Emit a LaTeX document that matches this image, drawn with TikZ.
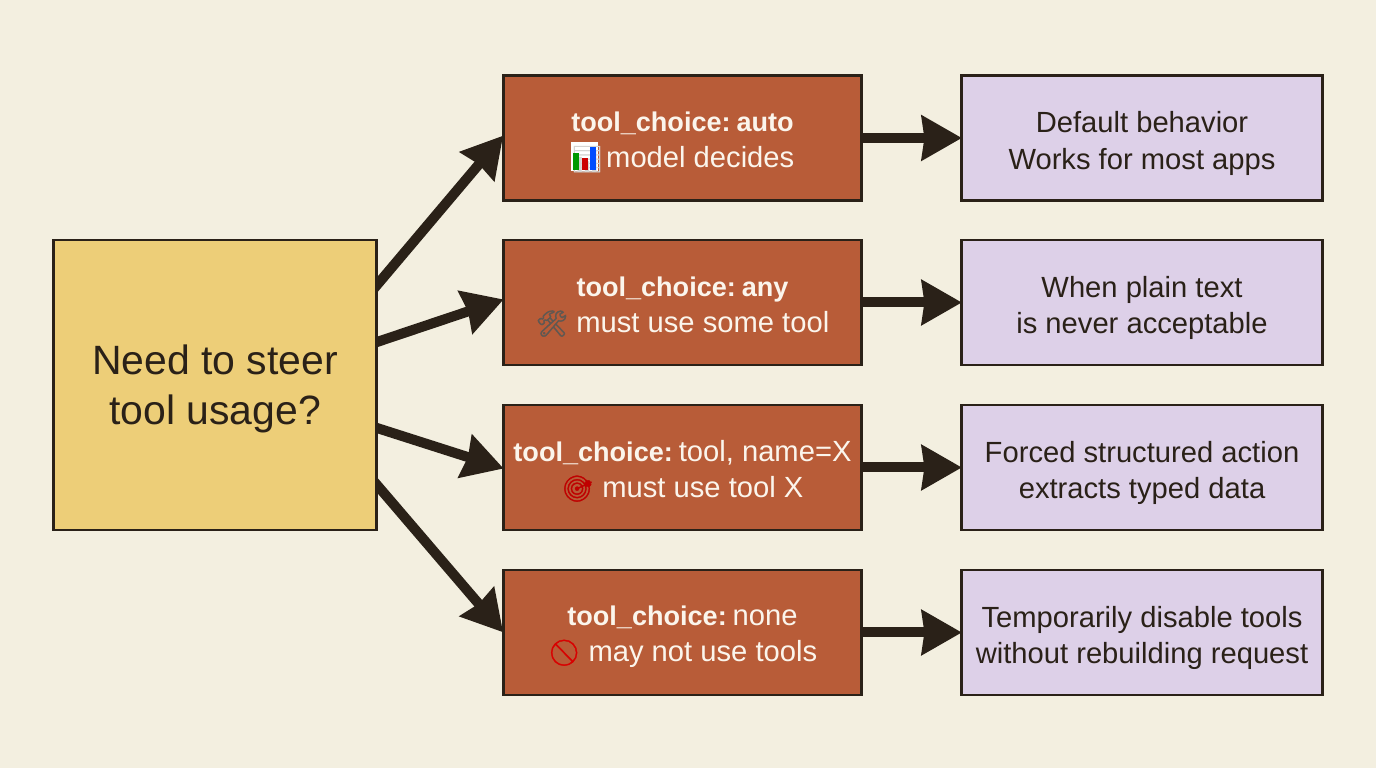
\documentclass[tikz,border=0pt]{standalone}
\usepackage{fontspec}
\setmainfont{Liberation Sans}
\newfontfamily\emojifont[FakeBold=1.5]{Noto Emoji}
\usetikzlibrary{arrows.meta,backgrounds}

\definecolor{paper}{HTML}{F3EFE0}
\definecolor{ink}{HTML}{2A2118}
\definecolor{rust}{HTML}{B85C38}
\definecolor{lilac}{HTML}{DDD0E8}
\definecolor{straw}{HTML}{EDCE78}
\definecolor{cream}{HTML}{FBF5EC}

\tikzset{
  box/.style={draw=ink, line width=1.5pt, align=center, inner sep=0pt},
  question/.style={box, fill=straw, text=ink, minimum width=6.46cm, minimum height=5.8cm,
    font=\fontsize{23.3}{28.5}\selectfont, text height=50.1pt},
  choice/.style={box, fill=rust, text=cream, minimum width=7.16cm, minimum height=2.5cm,
    font=\fontsize{16.6}{20.6}\selectfont, text height=36.5pt},
  result/.style={box, fill=lilac, text=ink, minimum width=7.22cm, minimum height=2.5cm,
    font=\fontsize{16.6}{20.6}\selectfont, text height=38.8pt},
  link/.style={draw=ink, line width=0.2cm, -{Stealth[length=0.8cm, width=0.88cm, inset=0.05cm]}, shorten >=-1pt}
}
\newcommand{\emo}[2]{{\fontsize{14.6}{20.6}\emojifont\textcolor{#1}{#2}}}
\newcommand{\key}[1]{{\fontsize{15.4}{20.6}\selectfont\bfseries #1}}
\newcommand{\gap}{\hspace{3.4pt}}
% chart glyph on a white tile, with its three bars in colour
\newcommand{\chartemo}{\rlap{\textcolor{white}{\rule[-1.7pt]{15.6pt}{16.5pt}}}%
  \rlap{\emo{ink!20}{📊}}%
  \rlap{\hspace{1.1pt}\textcolor{green!60!black}{\rule[-1.2pt]{3.4pt}{9.7pt}}}%
  \rlap{\hspace{6.2pt}\textcolor{red!80!black}{\rule[-1.2pt]{3.4pt}{6.8pt}}}%
  \rlap{\hspace{10.8pt}\textcolor{blue!70!cyan}{\rule[-1.2pt]{3.4pt}{13pt}}}%
  \hspace{15.6pt}}

\begin{document}
\begin{tikzpicture}

    % Page
    \useasboundingbox (0,0) rectangle (27.52,15.36);

    % Question
    \node[question] (ask) at (4.3,7.66) {Need to steer\\tool usage?};

    % Choices
    \node[choice] (auto) at (13.65,12.6) {\key{tool\_choice:\gap auto}\\\chartemo{} model decides};
    \node[choice] (any) at (13.65,9.31) {\key{tool\_choice:\gap any}\\\emo{ink!75}{🛠} must use some tool};
    \node[choice] (forced) at (13.65,6.01) {\key{tool\_choice:}\gap tool, name=X\\\emo{red!75!black}{🎯} must use tool X};
    \node[choice] (none) at (13.65,2.71) {\key{tool\_choice:}\gap none\\\emo{red!85!black}{🚫} may not use tools};

    % Results
    \node[result] (autonote) at (22.84,12.6) {Default behavior\\Works for most apps};
    \node[result] (anynote) at (22.84,9.31) {When plain text\\is never acceptable};
    \node[result] (forcednote) at (22.84,6.01) {Forced structured action\\extracts typed data};
    \node[result] (nonenote) at (22.84,2.71) {Temporarily disable tools\\without rebuilding request};

    % Ends of the arrows on the question box
    \coordinate (ask1) at (7.54,9.66);
    \coordinate (ask2) at (7.54,8.52);
    \coordinate (ask3) at (7.54,6.8);
    \coordinate (ask4) at (7.54,5.66);
    \coordinate (in1) at (10.04,12.62);
    \coordinate (in2) at (10.04,9.36);
    \coordinate (in3) at (10.04,6.0);
    \coordinate (in4) at (10.04,2.74);

    \begin{scope}[on background layer]
        % Page
        \fill[paper] (0,0) rectangle (27.52,15.36);

        % Question to choices
        \draw[link, shorten <=-0.3cm] (ask1) -- (in1);
        \draw[link, shorten <=-0.3cm] (ask2) -- (in2);
        \draw[link, shorten <=-0.3cm] (ask3) -- (in3);
        \draw[link, shorten <=-0.3cm] (ask4) -- (in4);

        % Choices to results
        \draw[link] (auto.east) -- (autonote.west);
        \draw[link] (any.east) -- (anynote.west);
        \draw[link] (forced.east) -- (forcednote.west);
        \draw[link] (none.east) -- (nonenote.west);
    \end{scope}

\end{tikzpicture}
\end{document}
